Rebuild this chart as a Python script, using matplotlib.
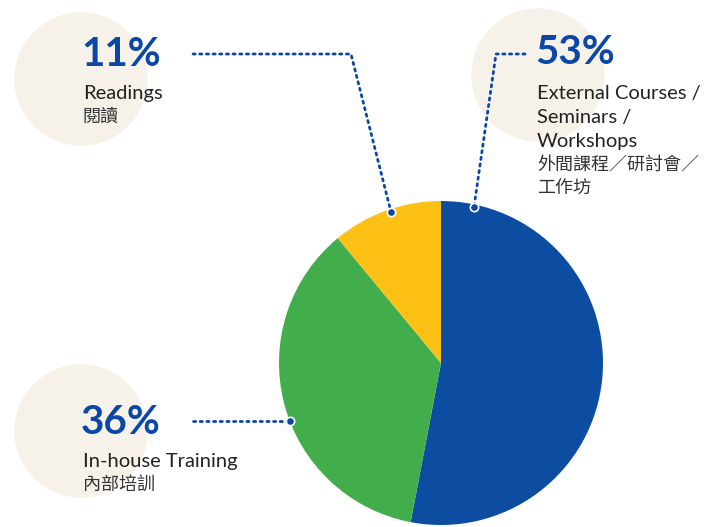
import matplotlib.pyplot as plt
from matplotlib.patches import Circle

# data
shares = [53, 36, 11]
pct_labels = ['53%', '36%', '11%']
labels_en = ['External Courses /\nSeminars /\nWorkshops', 'In-house Training', 'Readings']
labels_zh = ['外間課程／研討會／\n工作坊', '內部培訓', '閱讀']
colors = ['#0c4da2', '#42ae4b', '#fdc116']

W, H = 717, 527
BLUE = '#0a47a8'
BEIGE = '#f6f2ea'
FONT = ['Lato', 'Noto Sans CJK TC', 'DejaVu Sans']
ZH_FONT = ['Noto Sans CJK TC', 'DejaVu Sans']


def py(y):
    # pixel row (from top) -> data y
    return H - y


fig = plt.figure(figsize=(W / 100, H / 100), dpi=100)
ax = fig.add_axes([0, 0, 1, 1])

# background circles
for cx, cy in [(81, 79), (538, 75), (81, 431)]:
    ax.add_patch(Circle((cx, py(cy)), 66, color=BEIGE, zorder=0))

# pie
ax.pie(shares, colors=colors, startangle=90, counterclock=False,
       center=(441, py(363)), radius=162, frame=True,
       wedgeprops=dict(linewidth=0))
ax.set_xlim(0, W)
ax.set_ylim(0, H)
ax.set_aspect('equal')
ax.axis('off')

# leader lines
leaders = [
    [(525, 54), (496, 54), (474, 207)],
    [(193, 421), (290, 421)],
    [(193, 54), (351, 54), (391, 212)],
]
for pts in leaders:
    xs = [p[0] for p in pts]
    ys = [py(p[1]) for p in pts]
    ax.plot(xs, ys, color=BLUE, lw=2, linestyle=(0, (0.8, 1.6)),
            dash_capstyle='round', zorder=3)
    ax.plot(xs[-1], ys[-1], 'o', ms=6, mfc=BLUE, mec='white', mew=1.2, zorder=4)

# labels: (x, pct baseline, first text baseline)
label_pos = [(537, 64, 99), (83, 434, 467), (83, 66, 99)]
for i, (x, yb, yt) in enumerate(label_pos):
    ax.text(x - 2, py(yb), pct_labels[i], fontsize=29, fontweight='bold',
            color=BLUE, family=FONT, va='baseline', ha='left')
    y = yt
    for line in labels_en[i].split('\n'):
        ax.text(x, py(y), line, fontsize=14.5, color='#222222',
                family=FONT, va='baseline', ha='left')
        y += 24
    for line in labels_zh[i].split('\n'):
        ax.text(x, py(y - 1), line, fontsize=13, color='#333333',
                family=ZH_FONT, va='baseline', ha='left')
        y += 23

fig.savefig('out.png', dpi=100, facecolor='white')
